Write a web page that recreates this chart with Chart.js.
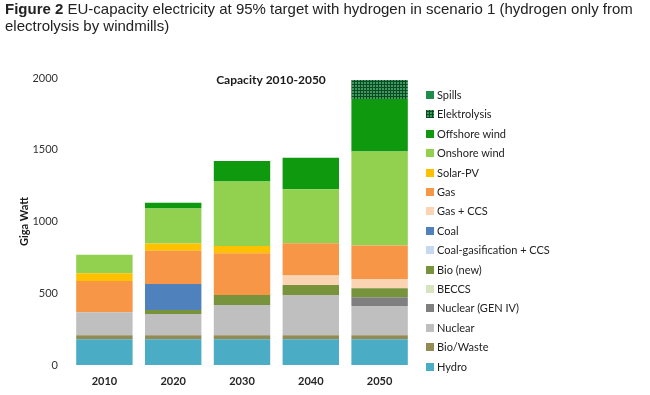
<!DOCTYPE html>
<html>
<head>
<meta charset="utf-8">
<script src="https://cdn.jsdelivr.net/npm/chart.js@4/dist/chart.umd.min.js"></script>
<style>
  html, body { margin: 0; padding: 0; background: #fff; }
  #wrap { position: relative; width: 650px; height: 395px; overflow: hidden; }
  #caption { position: absolute; left: 5px; top: 0; width: 645px; font-family: "Liberation Sans", Arial, sans-serif; font-size: 15px; line-height: 17px; color: #222; }
  #caption b { font-weight: bold; }
  #chartBox { position: absolute; left: 0; top: 0; width: 650px; height: 395px; }
  #legend { position: absolute; left: 426px; top: 0; font-family: Lato, "Open Sans", sans-serif; font-size: 11px; color: #222; }
  .li { position: absolute; left: 0; white-space: nowrap; height: 14px; line-height: 14px; }
  .sw { position: absolute; left: 0; top: 3px; width: 8px; height: 8px; }
  .tx { position: absolute; left: 11px; top: 0; }
</style>
</head>
<body>
<div id="wrap">
  <div id="chartBox"><canvas id="c" width="650" height="395"></canvas></div>
  <div id="caption"><b>Figure 2</b> EU-capacity electricity at 95% target with hydrogen in scenario 1 (hydrogen only from electrolysis by windmills)</div>
  <div id="legend"></div>
</div>
<script>
// ---- data ----
const years = ['2010', '2020', '2030', '2040', '2050'];
const seriesNames = ['Hydro', 'Bio/Waste', 'Nuclear', 'Nuclear (GEN IV)', 'BECCS', 'Bio (new)',
  'Coal-gasification + CCS', 'Coal', 'Gas + CCS', 'Gas', 'Solar-PV', 'Onshore wind',
  'Offshore wind', 'Elektrolysis', 'Spills'];
const hydro        = [180, 180, 180, 180, 180];
const bioWaste     = [27, 27, 27, 27, 27];
const nuclear      = [160, 148, 211, 281, 204];
const nuclearGen4  = [0, 0, 0, 0, 61];
const beccs        = [0, 0, 0, 0, 0];
const bioNew       = [0, 28, 70, 70, 62];
const coalGasCcs   = [0, 0, 0, 0, 0];
const coal         = [0, 181, 0, 0, 0];
const gasCcs       = [0, 0, 0, 65, 65];
const gas          = [218, 233, 290, 225, 233];
const solarPv      = [55, 49, 51, 0, 0];
const onshoreWind  = [128, 244, 449, 376, 655];
const offshoreWind = [0, 41, 144, 221, 367];
const elektrolysis = [0, 0, 0, 0, 132];
const spills       = [0, 0, 0, 0, 0];
const yTicks = [0, 500, 1000, 1500, 2000];

// ---- styles ----
function makePattern() {
  const p = document.createElement('canvas');
  p.width = 3; p.height = 3;
  const g = p.getContext('2d');
  g.fillStyle = '#3d9a5c'; g.fillRect(0, 0, 3, 3);
  g.fillStyle = '#0b4a22'; g.fillRect(0, 0, 3, 1); g.fillRect(0, 0, 1, 3);
  return g.createPattern(p, 'repeat');
}
const elekPattern = makePattern();
const colors = ['#4bacc6', '#948a54', '#bfbfbf', '#7f7f7f', '#d7e4bd', '#77933c',
  '#c6d9f1', '#4f81bd', '#fbd4b4', '#f79646', '#ffc000', '#92d050',
  '#0e990e', elekPattern, '#1d8c4c'];
const values = [hydro, bioWaste, nuclear, nuclearGen4, beccs, bioNew, coalGasCcs, coal,
  gasCcs, gas, solarPv, onshoreWind, offshoreWind, elektrolysis, spills];

const datasets = seriesNames.map((n, i) => ({
  label: n, data: values[i], backgroundColor: colors[i], borderWidth: 0,
  barPercentage: 0.82, categoryPercentage: 1.0
}));

const titlePlugin = {
  id: 'innerTitle',
  afterDraw(chart) {
    const ctx = chart.ctx;
    ctx.save();
    ctx.font = 'bold 12px Lato, sans-serif';
    ctx.fillStyle = '#1a1a1a';
    ctx.textAlign = 'center';
    ctx.textBaseline = 'middle';
    ctx.fillText('Capacity 2010-2050', 271, 80);
    ctx.restore();
  }
};

new Chart(document.getElementById('c'), {
  type: 'bar',
  data: { labels: years, datasets },
  options: {
    responsive: false,
    animation: false,
    layout: { padding: { top: 78, right: 236, bottom: 0, left: 0 } },
    plugins: { legend: { display: false }, tooltip: { enabled: false }, title: { display: false } },
    scales: {
      x: {
        stacked: true,
        grid: { display: false, drawTicks: false },
        border: { display: false },
        ticks: { padding: 10, color: '#262626', font: { family: 'Lato', size: 11, weight: 'bold' } },
        afterFit(s) { s.height = 30; }
      },
      y: {
        stacked: true,
        min: 0, max: 2000,
        afterBuildTicks(s) { s.ticks = yTicks.map(v => ({ value: v })); },
        grid: { display: false, drawTicks: false },
        border: { display: false },
        ticks: { padding: 12, color: '#333', font: { family: 'Lato', size: 11 }, callback: v => String(v) },
        title: { display: true, text: 'Giga Watt', color: '#1a1a1a', font: { family: 'Lato', size: 11, weight: 'bold' }, padding: { top: 18, bottom: 0 } },
        afterFit(s) { s.width = 70; }
      }
    }
  },
  plugins: [titlePlugin]
});

// ---- legend (top item = last series) ----
const leg = document.getElementById('legend');
for (let k = 0; k < seriesNames.length; k++) {
  const i = seriesNames.length - 1 - k;
  const item = document.createElement('div');
  item.className = 'li';
  item.style.top = (95 + k * 19.4 - 7) + 'px';
  const sw = document.createElement('div');
  sw.className = 'sw';
  if (typeof colors[i] === 'string') sw.style.background = colors[i];
  else sw.style.background = 'repeating-linear-gradient(0deg,#0b4a22 0 1px,transparent 1px 3px),repeating-linear-gradient(90deg,#0b4a22 0 1px,#3d9a5c 1px 3px)';
  const tx = document.createElement('span');
  tx.className = 'tx';
  tx.textContent = seriesNames[i];
  item.appendChild(sw); item.appendChild(tx);
  leg.appendChild(item);
}
</script>
</body>
</html>
